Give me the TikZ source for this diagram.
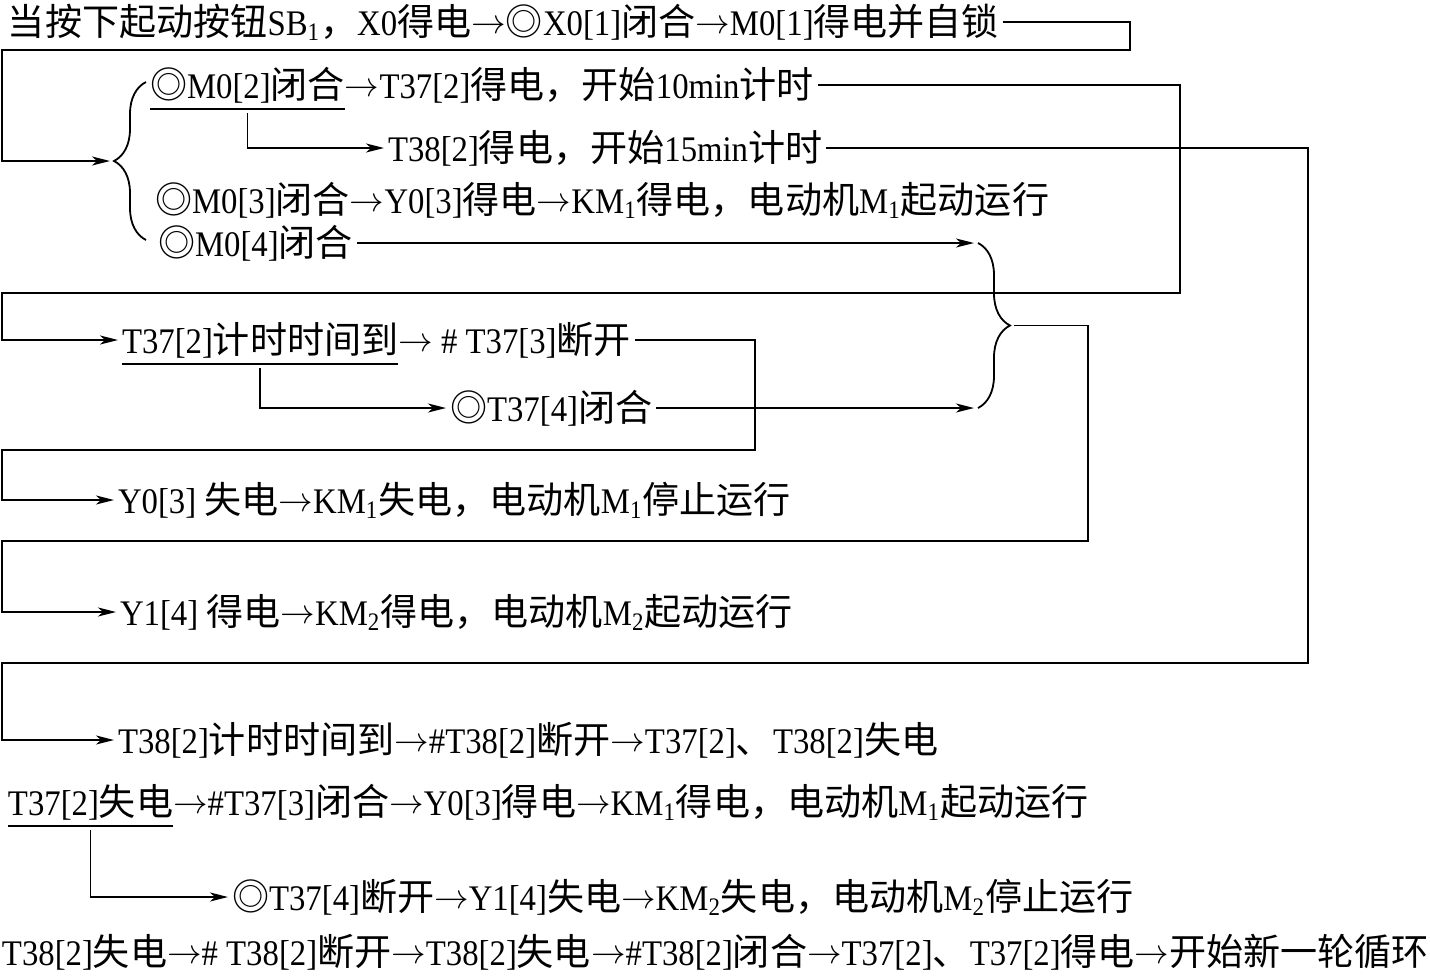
\documentclass[tikz,border=0pt]{standalone}
\usepackage{fontspec}
\setmainfont[FakeStretch=0.91]{Liberation Serif}
\newfontfamily\cjkfont[Scale=1.03]{Noto Sans CJK SC}
\usetikzlibrary{arrows.meta, positioning, decorations.pathreplacing}

% switch to the CJK font for Chinese characters
\XeTeXinterchartokenstate=1
\newXeTeXintercharclass\cjkclass
\newcount\cjkcode
\cjkcode="4E00
\loop
  \XeTeXcharclass\cjkcode=\cjkclass
  \advance\cjkcode by 1
\ifnum\cjkcode<"A000 \repeat
\XeTeXcharclass"3001=\cjkclass
\XeTeXcharclass"FF0C=\cjkclass
\XeTeXcharclass"25CE=\cjkclass
\XeTeXinterchartoks 0 \cjkclass={\cjkfont}
\XeTeXinterchartoks 4095 \cjkclass={\cjkfont}
\XeTeXinterchartoks \cjkclass 0={\rmfamily}
\XeTeXinterchartoks \cjkclass 4095={\rmfamily}

\newcommand\rarr{\mbox{\raisebox{1pt}{\fontsize{16}{16}\selectfont$\rightarrow$}}}

\begin{document}
\begin{tikzpicture}[
  x=0.5pt, y=-0.5pt,
  txt/.style={font=\fontsize{18}{22}\selectfont, inner sep=0pt, outer sep=0pt, anchor=west},
  arr/.style={-{Stealth[length=9pt, width=4.5pt, inset=2.5pt]}, line width=0.9pt, shorten >=2pt, shorten <=2pt},
  brc/.style={decorate, decoration={brace, amplitude=16pt}, line width=0.9pt}
]
  \useasboundingbox (0,0) rectangle (1430,975);

  \node[txt] (line1) at (8,22) {当按下起动按钮SB\textsubscript{1}，X0得电\rarr{}◎X0[1]闭合\rarr{}M0[1]得电并自锁};
  \node[txt] (m02) at (150,85) {◎M0[2]闭合};
  \node[txt, base right=0pt of m02] (t37on) {\rarr{}T37[2]得电，开始10min计时};
  \node[txt] (t38on) at (388,148) {T38[2]得电，开始15min计时};
  \node[txt] (m03) at (155,200) {◎M0[3]闭合\rarr{}Y0[3]得电\rarr{}KM\textsubscript{1}得电，电动机M\textsubscript{1}起动运行};
  \node[txt] (m04) at (158,243) {◎M0[4]闭合};
  \node[txt] (t37up) at (122,340) {T37[2]计时时间到};
  \node[txt, base right=0pt of t37up] (t37off) {\rarr{} \# T37[3]断开};
  \node[txt] (t374) at (450,408) {◎T37[4]闭合};
  \node[txt] (y03) at (118,500) {Y0[3] 失电\rarr{}KM\textsubscript{1}失电，电动机M\textsubscript{1}停止运行};
  \node[txt] (y14) at (120,612) {Y1[4] 得电\rarr{}KM\textsubscript{2}得电，电动机M\textsubscript{2}起动运行};
  \node[txt] (t38up) at (118,740) {T38[2]计时时间到\rarr{}\#T38[2]断开\rarr{}T37[2]、T38[2]失电};
  \node[txt] (t37lose) at (8,802) {T37[2]失电};
  \node[txt, base right=0pt of t37lose] (y03on) {\rarr{}\#T37[3]闭合\rarr{}Y0[3]得电\rarr{}KM\textsubscript{1}得电，电动机M\textsubscript{1}起动运行};
  \node[txt] (t374off) at (232,897) {◎T37[4]断开\rarr{}Y1[4]失电\rarr{}KM\textsubscript{2}失电，电动机M\textsubscript{2}停止运行};
  \node[txt] (again) at (2,952) {T38[2]失电\rarr{}\# T38[2]断开\rarr{}T38[2]失电\rarr{}\#T38[2]闭合\rarr{}T37[2]、T37[2]得电\rarr{}开始新一轮循环};

  % braces
  \coordinate (lbot) at (146,240);
  \coordinate (ltop) at (146,82);
  \coordinate (ltip) at (114,161);
  \coordinate (rtop) at (978,243);
  \coordinate (rbot) at (978,408);
  \coordinate (rtip) at (1010,325.5);
  \draw[brc] (lbot) -- (ltop);
  \draw[brc] (rtop) -- (rbot);

  % underlines
  \foreach \n in {m02, t37up, t37lose}
    \draw[line width=0.9pt] ([yshift=-3pt]\n.south west) -- ([yshift=-3pt]\n.south east);

  % feedback lines
  \draw[arr] (line1.east) -| (1130,50) -- (2,50) |- (ltip);
  \draw[arr] (t37on.east) -| (1180,293) -- (2,293) |- (t37up.west);
  \draw[arr] (t38on.east) -| (1308,663) -- (2,663) |- (t38up.west);
  \draw[arr] (t37off.east) -| (755,450) -- (2,450) |- (y03.west);
  \draw[arr] (rtip) -| (1088,541) -- (2,541) |- (y14.west);

  % into the right brace
  \draw[arr] (m04.east) -- (rtop);
  \draw[arr] (t374.east) -- (rbot);

  % branches
  \draw[arr] ([yshift=-3pt]m02.south) |- (t38on.west);
  \draw[arr] ([yshift=-3pt]t37up.south) |- (t374.west);
  \draw[arr] ([yshift=-3pt]t37lose.south) |- (t374off.west);
\end{tikzpicture}
\end{document}
